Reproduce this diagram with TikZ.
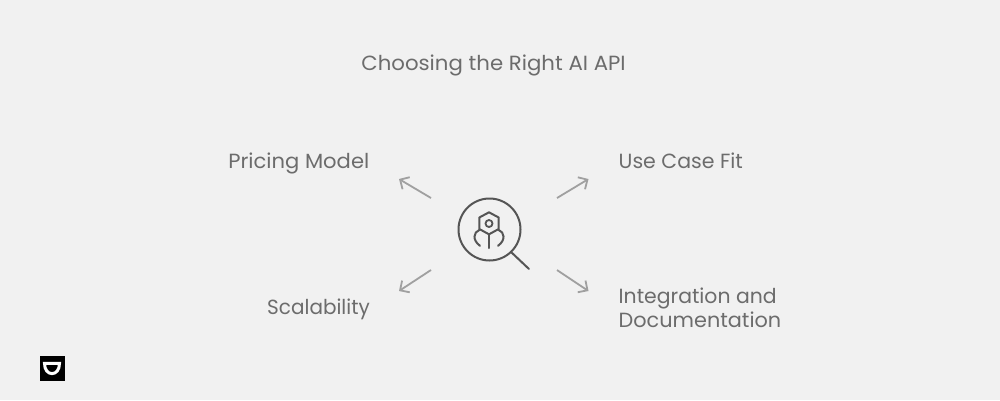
\documentclass[tikz,border=0pt]{standalone}
\usepackage{fontspec}
\setmainfont{Poppins}
\usetikzlibrary{arrows.meta}
\definecolor{bgc}{HTML}{F1F1F1}
\definecolor{txt}{HTML}{6C6C6C}
\definecolor{arr}{HTML}{A0A0A0}
\definecolor{ico}{HTML}{555555}
\newcommand{\stretched}[1]{\addfontfeature{FakeStretch=#1}}
\tikzset{
  lbl/.style={text=txt,font=\fontsize{20.5}{24}\selectfont,inner sep=0pt},
  spoke/.style={draw=arr,line width=1.8pt,-{Straight Barb[length=7pt,width=14pt,line width=1.8pt]}},
  iconline/.style={draw=ico,line width=2pt,line cap=round,line join=round}
}
\begin{document}
\begin{tikzpicture}[x=1pt,y=-1pt]
\useasboundingbox (0,0) rectangle (1000,400);
\fill[bgc] (0,0) rectangle (1000,400);
\node[lbl,anchor=base] (title) at (493.5,70.5) {\stretched{1.038}Choosing the Right AI API};
\node[lbl,anchor=base east] (pricing) at (369.5,168) {\stretched{1.03}Pricing Model};
\node[lbl,anchor=base west] (usecase) at (618.5,168) {Use Case Fit};
\node[lbl,anchor=base east] (scal) at (370,314.5) {\stretched{0.975}Scalability};
\node[lbl,anchor=base west] (integ) at (618.5,303) {\stretched{0.995}Integration and};
\node[lbl,anchor=base west] (docu) at (618.5,327) {\stretched{1.015}Documentation};
\coordinate (a1s) at (431,198); \coordinate (a1e) at (399,179);
\coordinate (a2s) at (557,198); \coordinate (a2e) at (588.5,179);
\coordinate (a3s) at (431,270); \coordinate (a3e) at (399,291);
\coordinate (a4s) at (557,270); \coordinate (a4e) at (588.5,291);
\draw[spoke] (a1s) -- (a1e);
\draw[spoke] (a2s) -- (a2e);
\draw[spoke] (a3s) -- (a3e);
\draw[spoke] (a4s) -- (a4e);
\node[draw=ico,line width=2pt,circle,minimum size=62pt,inner sep=0pt] (lens) at (489.5,229.5) {};
\coordinate (handle) at (529,269);
\draw[iconline] (510.8,251.8) -- (handle);
\draw[iconline] (489,212.3) -- (498.7,217.5) -- (498.7,229) -- (489,234.3) -- (479.3,229) -- (479.3,217.5) -- cycle;
\node[draw=ico,line width=1.8pt,circle,minimum size=7pt,inner sep=0pt] (nut) at (489,223.5) {};
\draw[iconline] (489,234.3) -- (489,248);
\draw[iconline] (479.3,230) .. controls (473.5,232) and (472,240) .. (480,245.8);
\draw[iconline] (498.7,230) .. controls (504.5,232) and (506,240) .. (498,245.8);
\fill[black] (40,356) rectangle (64.7,380.5);
\draw[white,line width=3pt] (44.5,363.3) -- (59.5,363.3) .. controls (59.5,370) and (56,373.6) .. (52,373.6) .. controls (48,373.6) and (44.5,370) .. (44.5,363.3) -- cycle;
\end{tikzpicture}
\end{document}
